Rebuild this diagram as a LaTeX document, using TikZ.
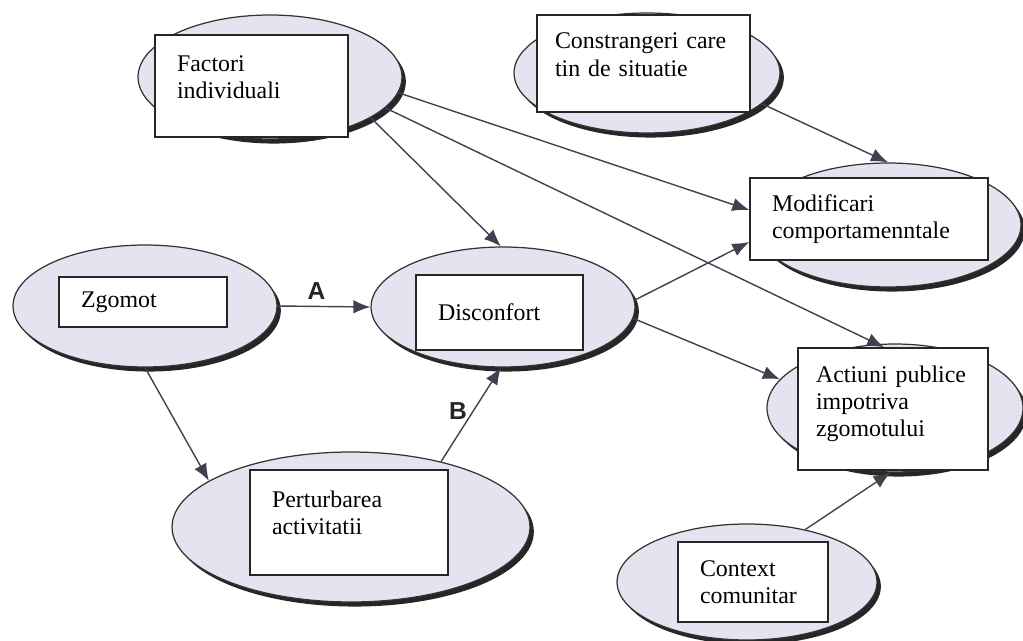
\documentclass[tikz,border=0pt]{standalone}
\usepackage{fontspec}
\setmainfont{Liberation Serif}
\newfontfamily\letterfont{Liberation Sans}
\usetikzlibrary{arrows.meta, positioning, shadows, shapes.geometric}
\definecolor{ovalfill}{HTML}{E4E4F0}
\definecolor{linkgray}{HTML}{3E4250}
\tikzset{
  oval/.style={ellipse, draw=black!80, line width=0.7pt, fill=ovalfill, inner sep=0pt,
    drop shadow={shadow xshift=2.2pt, shadow yshift=-2.6pt, fill=black!85, opacity=1}},
  txtbox/.style={draw=black!85, line width=0.8pt, fill=white, align=left,
    inner xsep=0.44cm, inner ysep=0pt, font=\fontsize{13.6}{15.5}\selectfont},
  link/.style={linkgray, line width=0.8pt, -{Latex[length=0.34cm, width=0.27cm]}},
  letter/.style={font=\letterfont\bfseries\fontsize{14}{16}\selectfont, text=black!85}
}

\begin{document}
\begin{tikzpicture}[x=0.02cm, y=-0.02cm]
    \useasboundingbox (0,0) rectangle (1023,641);
    % ovals
    \node[oval, minimum width=5.28cm, minimum height=2.48cm] (indiv) at (270,77) {};
    \node[oval, minimum width=5.32cm, minimum height=2.40cm] (constr) at (647,73) {};
    \node[oval, minimum width=5.32cm, minimum height=2.48cm] (modif) at (888,225) {};
    \node[oval, minimum width=5.12cm, minimum height=2.56cm] (actiuni) at (895,408) {};
    \node[oval, minimum width=5.28cm, minimum height=2.44cm] (zgomot) at (145,306) {};
    \node[oval, minimum width=5.28cm, minimum height=2.40cm] (disconf) at (503,307) {};
    \node[oval, minimum width=7.16cm, minimum height=3.00cm] (perturb) at (351,527) {};
    \node[oval, minimum width=5.20cm, minimum height=2.32cm] (context) at (747,582) {};
    % boxes (an empty last line lifts the text a little)
    \node[txtbox, text width=2.98cm, minimum height=2.04cm] (indivbox) at (251.5,86) {Factori\\individuali\\[-0.19cm]\mbox{}};
    \node[txtbox, inner xsep=0.36cm, text width=3.54cm, minimum height=1.94cm] (constrbox) at (643.5,63.5) {Constrangeri care\\tin de situatie\\[-0.19cm]\mbox{}};
    \node[txtbox, text width=3.88cm, minimum height=1.64cm] (modifbox) at (869,219) {Modificari\\comportamenntale};
    \node[txtbox, inner xsep=0.36cm, text width=3.08cm, minimum height=2.44cm] (actbox) at (893,409) {Actiuni publice\\impotriva\\zgomotului\\[-0.23cm]\mbox{}};
    \node[txtbox, text width=2.48cm, minimum height=1.00cm] (zgbox) at (143,302) {Zgomot};
    \node[txtbox, text width=2.46cm, minimum height=1.50cm] (discbox) at (499.5,312.5) {Disconfort};
    \node[txtbox, text width=3.08cm, minimum height=2.10cm] (pertbox) at (349,522.5) {Perturbarea\\activitatii\\[-0.15cm]\mbox{}};
    \node[txtbox, text width=2.12cm, minimum height=1.60cm] (ctxbox) at (753,582) {Context\\comunitar};
    % connectors
    \draw[link] (zgomot.east) -- node[letter, pos=0.42, above] (lettera) {A} (disconf.west);
    \draw[link] (zgomot.south) -- (perturb.162);
    \draw[link] (perturb.36) -- node[letter, pos=0.54, left] (letterb) {B} (disconf.-92);
    \draw[link] (indiv.-22) -- (disconf.92);
    \draw[link] (indiv.-7) -- ([yshift=0.18cm]modifbox.west);
    \draw[link] (indiv.-15) -- ([xshift=-0.18cm]actbox.north);
    \draw[link] (constr.-15) -- (modif.north);
    \draw[link] (disconf.3) -- ([yshift=-0.46cm]modifbox.west);
    \draw[link] (disconf.-5) -- (actiuni.166);
    \draw[link] (context.42) -- (actiuni.-94);
\end{tikzpicture}
\end{document}
